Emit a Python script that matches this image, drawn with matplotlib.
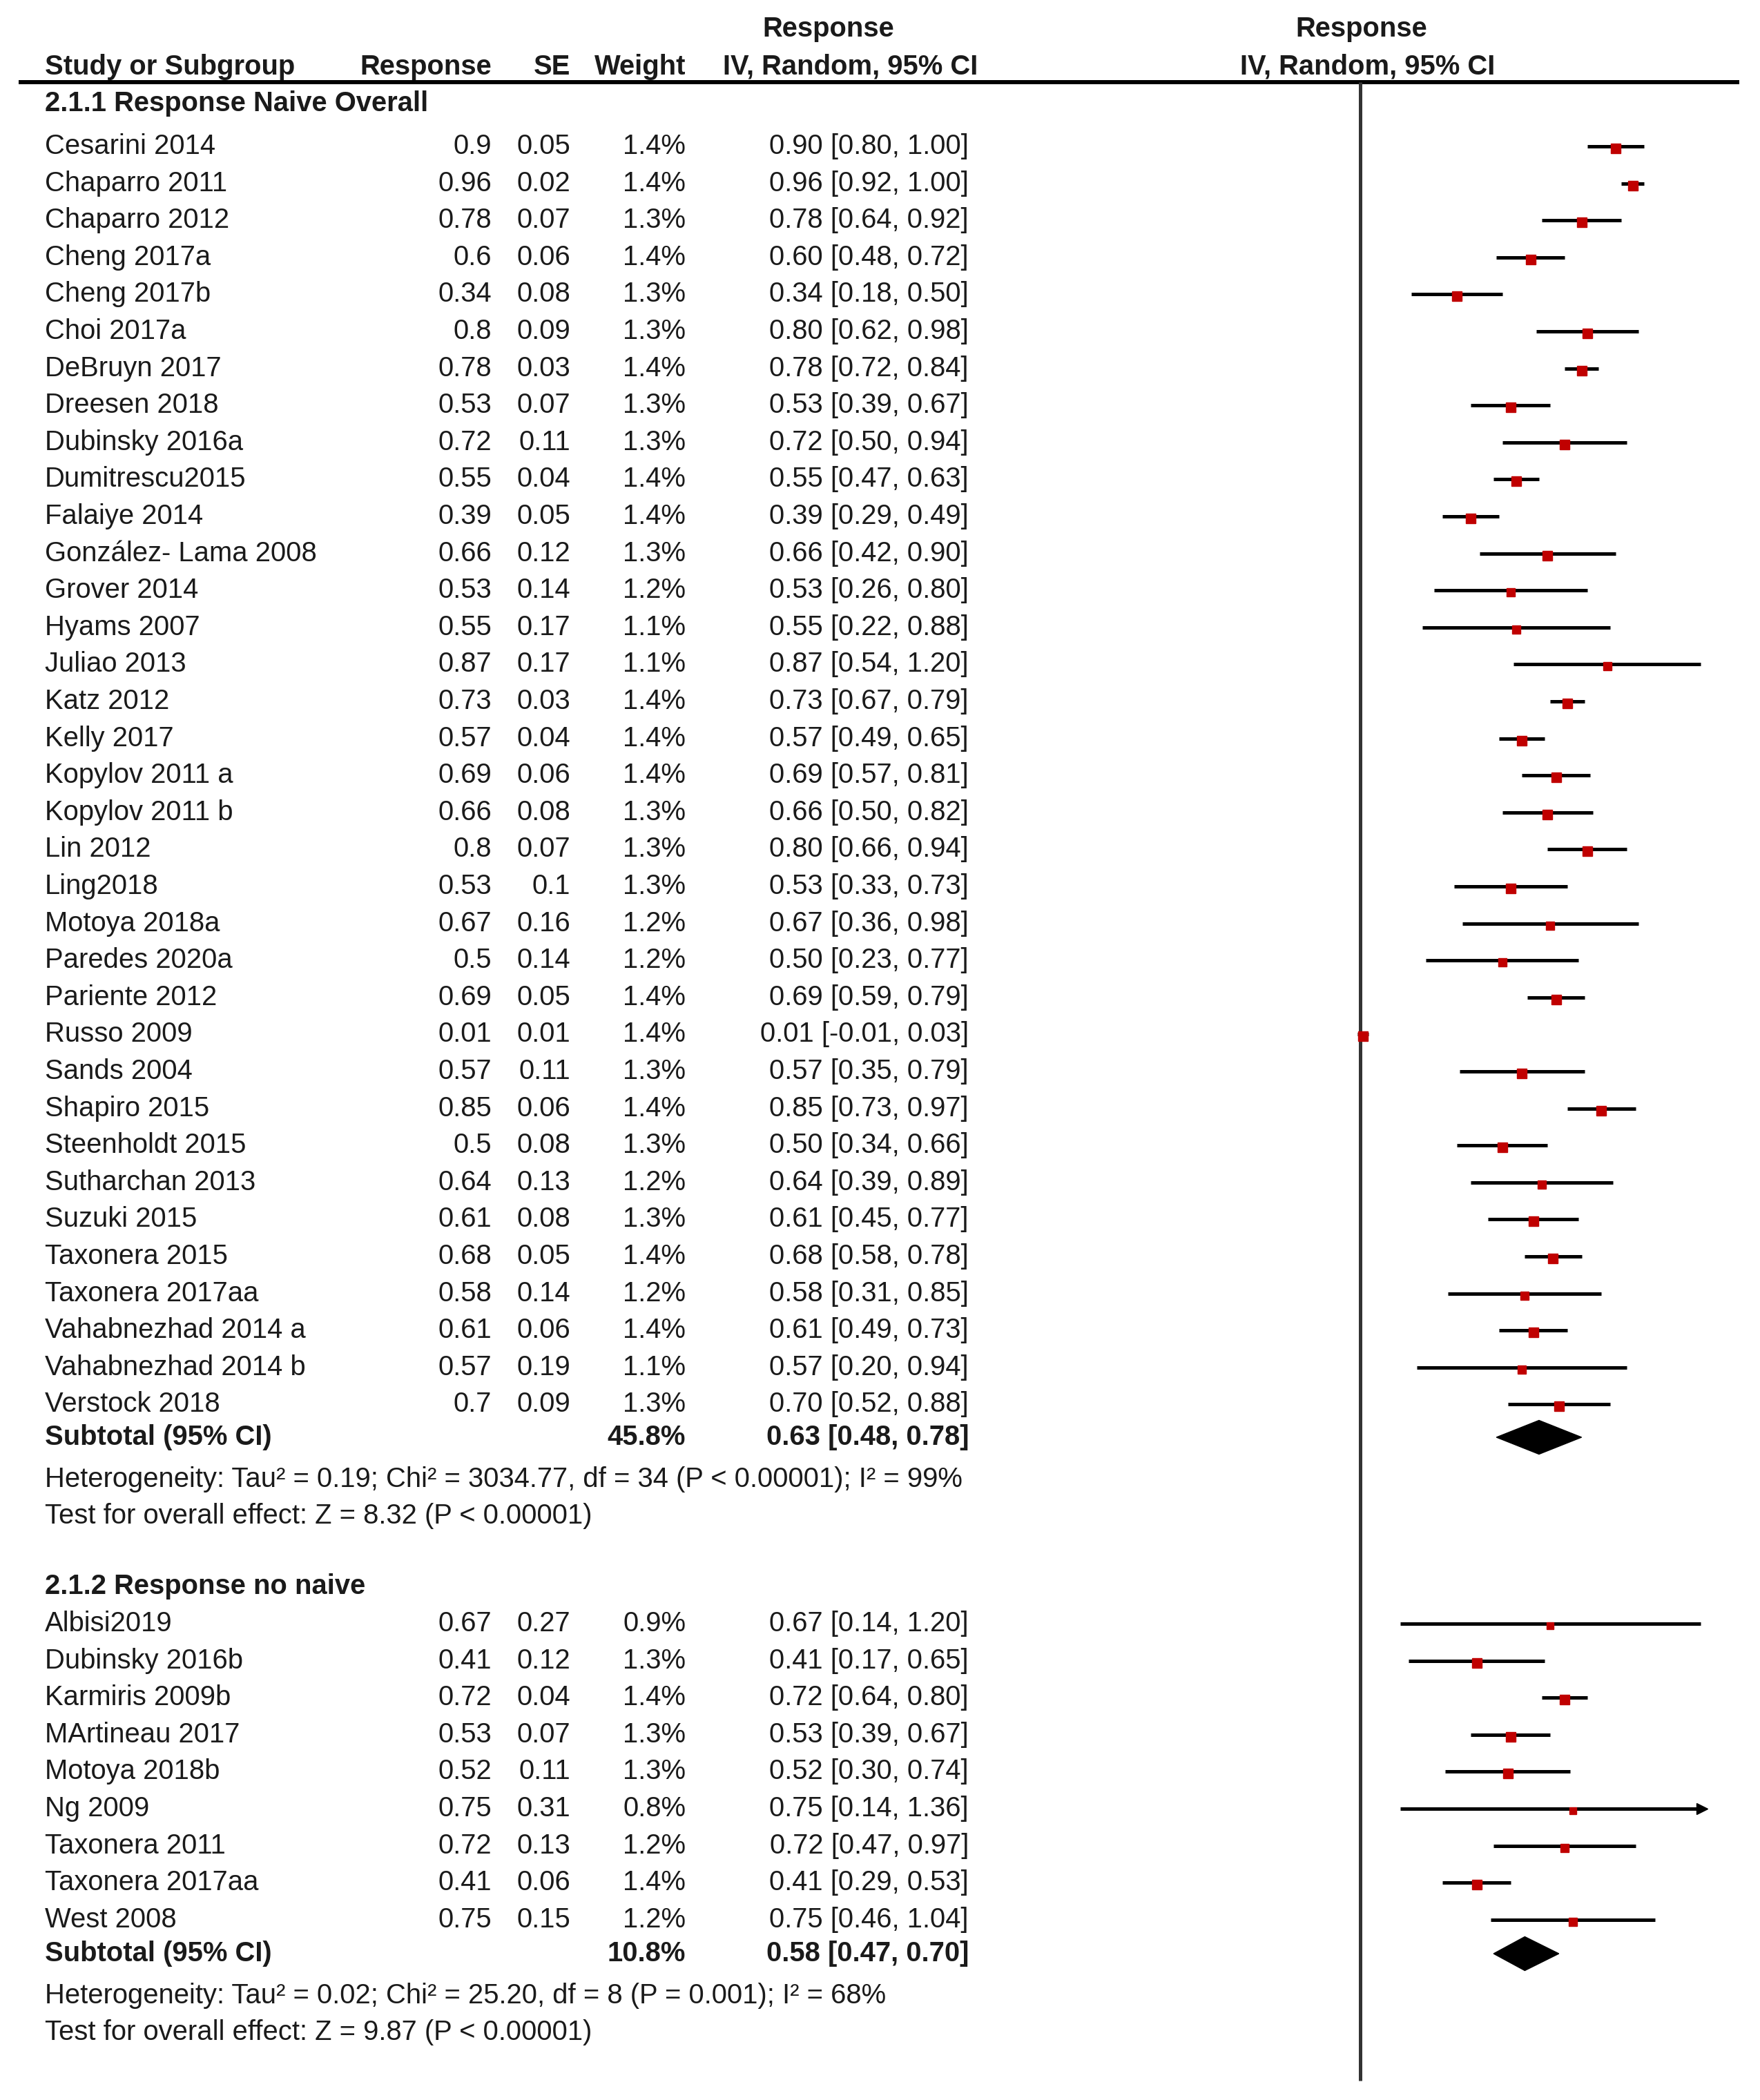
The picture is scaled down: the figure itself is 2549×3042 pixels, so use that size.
import matplotlib.pyplot as plt
from matplotlib.patches import Polygon

plt.rcParams['font.family'] = ['Liberation Sans', 'DejaVu Sans']

# 2.1.1 Response Naive Overall
studies1 = ["Cesarini 2014", "Chaparro 2011", "Chaparro 2012", "Cheng 2017a", "Cheng 2017b",
            "Choi 2017a", "DeBruyn 2017", "Dreesen 2018", "Dubinsky 2016a", "Dumitrescu2015",
            "Falaiye 2014", "González- Lama 2008", "Grover 2014", "Hyams 2007", "Juliao 2013",
            "Katz 2012", "Kelly 2017", "Kopylov 2011 a", "Kopylov 2011 b", "Lin 2012",
            "Ling2018", "Motoya 2018a", "Paredes 2020a", "Pariente 2012", "Russo 2009",
            "Sands 2004", "Shapiro 2015", "Steenholdt 2015", "Sutharchan 2013", "Suzuki 2015",
            "Taxonera 2015", "Taxonera 2017aa", "Vahabnezhad 2014 a", "Vahabnezhad 2014 b", "Verstock 2018"]
resp1 = [0.9, 0.96, 0.78, 0.6, 0.34, 0.8, 0.78, 0.53, 0.72, 0.55,
         0.39, 0.66, 0.53, 0.55, 0.87, 0.73, 0.57, 0.69, 0.66, 0.8,
         0.53, 0.67, 0.5, 0.69, 0.01, 0.57, 0.85, 0.5, 0.64, 0.61,
         0.68, 0.58, 0.61, 0.57, 0.7]
se1 = [0.05, 0.02, 0.07, 0.06, 0.08, 0.09, 0.03, 0.07, 0.11, 0.04,
       0.05, 0.12, 0.14, 0.17, 0.17, 0.03, 0.04, 0.06, 0.08, 0.07,
       0.1, 0.16, 0.14, 0.05, 0.01, 0.11, 0.06, 0.08, 0.13, 0.08,
       0.05, 0.14, 0.06, 0.19, 0.09]
weight1 = [1.4, 1.4, 1.3, 1.4, 1.3, 1.3, 1.4, 1.3, 1.3, 1.4,
           1.4, 1.3, 1.2, 1.1, 1.1, 1.4, 1.4, 1.4, 1.3, 1.3,
           1.3, 1.2, 1.2, 1.4, 1.4, 1.3, 1.4, 1.3, 1.2, 1.3,
           1.4, 1.2, 1.4, 1.1, 1.3]
lo1 = [0.80, 0.92, 0.64, 0.48, 0.18, 0.62, 0.72, 0.39, 0.50, 0.47,
       0.29, 0.42, 0.26, 0.22, 0.54, 0.67, 0.49, 0.57, 0.50, 0.66,
       0.33, 0.36, 0.23, 0.59, -0.01, 0.35, 0.73, 0.34, 0.39, 0.45,
       0.58, 0.31, 0.49, 0.20, 0.52]
hi1 = [1.00, 1.00, 0.92, 0.72, 0.50, 0.98, 0.84, 0.67, 0.94, 0.63,
       0.49, 0.90, 0.80, 0.88, 1.20, 0.79, 0.65, 0.81, 0.82, 0.94,
       0.73, 0.98, 0.77, 0.79, 0.03, 0.79, 0.97, 0.66, 0.89, 0.77,
       0.78, 0.85, 0.73, 0.94, 0.88]
sub1 = [0.63, 0.48, 0.78]
sub1_weight = 45.8
het1 = "Heterogeneity: Tau² = 0.19; Chi² = 3034.77, df = 34 (P < 0.00001); I² = 99%"
test1 = "Test for overall effect: Z = 8.32 (P < 0.00001)"

# 2.1.2 Response no naive
studies2 = ["Albisi2019", "Dubinsky 2016b", "Karmiris 2009b", "MArtineau 2017", "Motoya 2018b",
            "Ng 2009", "Taxonera 2011", "Taxonera 2017aa", "West 2008"]
resp2 = [0.67, 0.41, 0.72, 0.53, 0.52, 0.75, 0.72, 0.41, 0.75]
se2 = [0.27, 0.12, 0.04, 0.07, 0.11, 0.31, 0.13, 0.06, 0.15]
weight2 = [0.9, 1.3, 1.4, 1.3, 1.3, 0.8, 1.2, 1.4, 1.2]
lo2 = [0.14, 0.17, 0.64, 0.39, 0.30, 0.14, 0.47, 0.29, 0.46]
hi2 = [1.20, 0.65, 0.80, 0.67, 0.74, 1.36, 0.97, 0.53, 1.04]
sub2 = [0.58, 0.47, 0.70]
sub2_weight = 10.8
het2 = "Heterogeneity: Tau² = 0.02; Chi² = 25.20, df = 8 (P = 0.001); I² = 68%"
test2 = "Test for overall effect: Z = 9.87 (P < 0.00001)"

W, H = 2549, 3042
fig = plt.figure(figsize=(W / 100, H / 100), dpi=100)
ax = fig.add_axes([0, 0, 1, 1])
ax.set_xlim(0, W)
ax.set_ylim(H, 0)
ax.axis('off')

# forest panel: zero at x=1970 px, 411 px per unit
x0, scale, lim = 1970, 411, 1.24
ax_f = fig.add_axes([(x0 - lim * scale) / W, 0, 2 * lim * scale / W, 1], sharey=ax)
ax_f.set_xlim(-lim, lim)
ax_f.axis('off')

fs = 28.8
tc = '#1a1a1a'
red = '#C00000'
x_name, x_resp, x_se, x_w, x_ci = 65, 712, 826, 993, 1403


def txt(x, y, s, ha='left', bold=False):
    ax.text(x, y, s, ha=ha, va='center', fontsize=fs, color=tc,
            fontweight='bold' if bold else 'normal')


# header
txt(1200, 42, "Response", ha='center', bold=True)
txt(x_name, 97, "Study or Subgroup", bold=True)
txt(x_resp, 97, "Response", ha='right', bold=True)
txt(x_se, 97, "SE", ha='right', bold=True)
txt(x_w, 97, "Weight", ha='right', bold=True)
txt(1416, 97, "IV, Random, 95% CI", ha='right', bold=True)
txt(1972, 42, "Response", ha='center', bold=True)
txt(1981, 97, "IV, Random, 95% CI", ha='center', bold=True)
ax.plot([27, 2519], [119, 119], color='black', lw=4.3, solid_capstyle='butt')
ax_f.plot([0, 0], [119, 3014], color='#333333', lw=3.6, solid_capstyle='butt', zorder=1)

row_h = 53.6
clip_hi = 1.205


def group(y_head, title, y_first, studies, resp, se, weight, lo, hi, sub, sub_w, y_sub, het, test):
    txt(x_name, y_head, title, bold=True)
    for i, name in enumerate(studies):
        y = y_first + i * row_h
        txt(x_name, y, name)
        txt(x_resp, y, str(resp[i]), ha='right')
        txt(x_se, y, str(se[i]), ha='right')
        txt(x_w, y, f"{weight[i]}%", ha='right')
        txt(x_ci, y, f"{resp[i]:.2f} [{lo[i]:.2f}, {hi[i]:.2f}]", ha='right')
        right = min(hi[i], clip_hi)
        ax_f.plot([lo[i], right], [y, y], color='black', lw=3.6, solid_capstyle='butt', zorder=2)
        if hi[i] > clip_hi:
            ax_f.plot(clip_hi, y, marker='>', color='black', ms=11, zorder=2)
        ax_f.plot(resp[i], y + 3, marker='s', color=red, mec=red,
                  ms=9.5 * (weight[i] / 1.3) ** 0.5, zorder=3)
    txt(x_name, y_sub, "Subtotal (95% CI)", bold=True)
    txt(x_w, y_sub, f"{sub_w}%", ha='right', bold=True)
    txt(x_ci, y_sub, f"{sub[0]:.2f} [{sub[1]:.2f}, {sub[2]:.2f}]", ha='right', bold=True)
    dh = 24.5
    ax_f.add_patch(Polygon([(sub[1], y_sub), (sub[0], y_sub - dh), (sub[2], y_sub), (sub[0], y_sub + dh)],
                           closed=True, color='black', zorder=3))
    txt(x_name, y_sub + 61, het)
    txt(x_name, y_sub + 114, test)


group(150, "2.1.1 Response Naive Overall", 212, studies1, resp1, se1, weight1, lo1, hi1,
      sub1, sub1_weight, 2082, het1, test1)
group(2298, "2.1.2 Response no naive", 2352, studies2, resp2, se2, weight2, lo2, hi2,
      sub2, sub2_weight, 2830, het2, test2)

fig.savefig("out.png", dpi=100)
